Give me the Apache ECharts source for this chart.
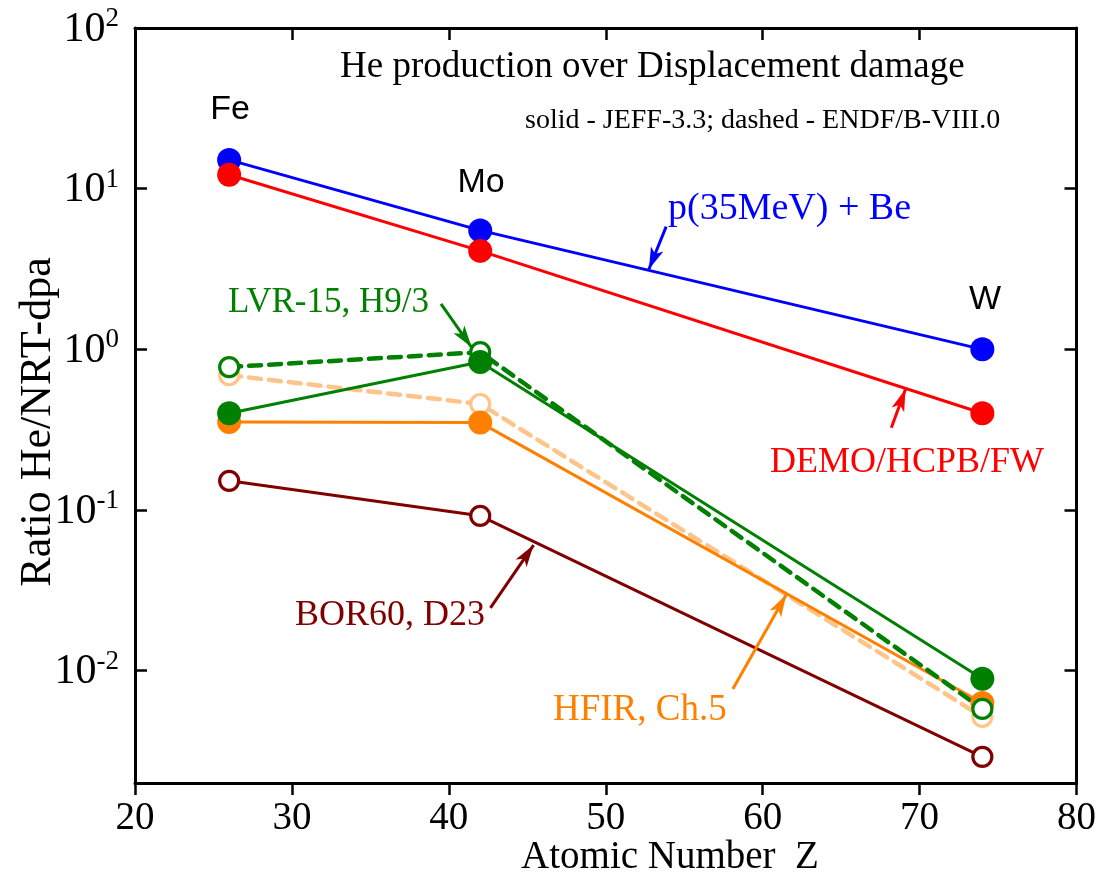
<!DOCTYPE html>
<html>
<head>
<meta charset="utf-8">
<title>He production over Displacement damage</title>
<script src="https://cdn.jsdelivr.net/npm/echarts@6/dist/echarts.min.js"></script>
<style>
  html, body { margin: 0; padding: 0; background: #fff; }
  #chart { width: 1099px; height: 882px; }
</style>
</head>
<body>
<div id="chart"></div>
<script>
// Atomic number of the three elements (Fe, Mo, W)
const zAtomic = [26, 42, 74];
const elementNames = ['Fe', 'Mo', 'W'];

// He/NRT-dpa ratio per irradiation spectrum
const heDpaBeam = [15.1, 5.5, 1.0];          // p(35MeV) + Be
const heDpaDemo = [12.2, 4.1, 0.40];         // DEMO/HCPB/FW
const heDpaHfirEndf = [0.69, 0.457, 0.00516]; // HFIR, Ch.5 (ENDF/B-VIII.0)
const heDpaHfirJeff = [0.353, 0.35, 0.0063];  // HFIR, Ch.5 (JEFF-3.3)
const heDpaLvrEndf = [0.776, 0.96, 0.00578];  // LVR-15, H9/3 (ENDF/B-VIII.0)
const heDpaLvrJeff = [0.40, 0.835, 0.0089];   // LVR-15, H9/3 (JEFF-3.3)
const heDpaBor60 = [0.152, 0.092, 0.00291];   // BOR60, D23

// Axis ranges
const xMin = 20, xMax = 80, xStep = 10;
const yMin = 0.002, yMax = 100;

const SERIF = "'Liberation Serif', 'Times New Roman', serif";
const SANS = "'Liberation Sans', Arial, sans-serif";

const pairs = vals => zAtomic.map((z, i) => [z, vals[i]]);

function lineSeries(name, vals, color, opts) {
  const open = opts.open;
  return {
    name: name,
    type: 'line',
    data: pairs(vals),
    symbol: 'circle',
    symbolSize: open ? 19 : 24,
    showSymbol: true,
    lineStyle: {
      color: color,
      width: opts.width || 3,
      type: opts.dash ? [12, 8] : 'solid',
      cap: 'round'
    },
    itemStyle: open
      ? { color: '#ffffff', borderColor: color, borderWidth: 3.2 }
      : { color: color, borderWidth: 0 },
    emphasis: { disabled: true },
    silent: true
  };
}

// Pointer arrows from the labels to their curves, in data coordinates
const pointers = [
  { color: '#0000ff', from: [53.85, 5.8], to: [52.75, 3.15] },
  { color: '#008000', from: [39.5, 1.92], to: [41.45, 1.03] },
  { color: '#ff0000', from: [68.2, 0.325], to: [69.1, 0.565] },
  { color: '#800000', from: [42.65, 0.0246], to: [45.4, 0.0605] },
  { color: '#ff8000', from: [58.1, 0.0077], to: [61.5, 0.0297] }
];

const chart = echarts.init(document.getElementById('chart'), null, { renderer: 'canvas' });

// Decade labels written as 10 with a raised exponent
function decadeLabel(v) {
  const e = Math.log10(v);
  const r = Math.round(e);
  if (Math.abs(e - r) > 1e-6) return '';
  return '{b|10}{s|' + String(r) + '}';
}

const frame = { show: true, lineStyle: { color: '#000', width: 3 } };
const tickIn = { show: true, inside: true, length: 12, lineStyle: { color: '#000', width: 2.5 } };

const option = {
  animation: false,
  backgroundColor: '#ffffff',
  grid: { left: 135, right: 21, top: 28, bottom: 99, containLabel: false },
  xAxis: [
    {
      type: 'value', position: 'bottom', min: xMin, max: xMax, interval: xStep,
      axisLine: frame,
      axisTick: { show: true, inside: false, length: 12, lineStyle: { color: '#000', width: 2.5 } },
      axisLabel: { show: true, margin: 16, color: '#000', fontFamily: SERIF, fontSize: 39 },
      splitLine: { show: false }
    },
    {
      type: 'value', position: 'top', min: xMin, max: xMax, interval: xStep,
      axisLine: frame, axisTick: tickIn, axisLabel: { show: false }, splitLine: { show: false }
    }
  ],
  yAxis: [
    {
      type: 'log', logBase: 10, position: 'left', min: yMin, max: yMax,
      axisLine: frame, axisTick: tickIn,
      minorTick: { show: false },
      axisLabel: {
        show: true, margin: 16, color: '#000', fontFamily: SERIF,
        formatter: decadeLabel,
        rich: {
          b: { fontFamily: SERIF, fontSize: 42, color: '#000', verticalAlign: 'bottom' },
          s: { fontFamily: SERIF, fontSize: 27, color: '#000', verticalAlign: 'bottom', padding: [0, 0, 18, 0] }
        }
      },
      splitLine: { show: false }
    },
    {
      type: 'log', logBase: 10, position: 'right', min: yMin, max: yMax,
      axisLine: frame, axisTick: tickIn, axisLabel: { show: false }, splitLine: { show: false }
    }
  ],
  series: [
    lineSeries('p(35MeV) + Be', heDpaBeam, '#0000ff', {}),
    lineSeries('DEMO/HCPB/FW', heDpaDemo, '#ff0000', {}),
    lineSeries('HFIR, Ch.5 ENDF/B-VIII.0', heDpaHfirEndf, '#ffc48a', { open: true, dash: true, width: 4.5 }),
    lineSeries('HFIR, Ch.5 JEFF-3.3', heDpaHfirJeff, '#ff8000', {}),
    lineSeries('LVR-15, H9/3 ENDF/B-VIII.0', heDpaLvrEndf, '#008000', { open: true, dash: true, width: 4.5 }),
    lineSeries('LVR-15, H9/3 JEFF-3.3', heDpaLvrJeff, '#008000', {}),
    lineSeries('BOR60, D23', heDpaBor60, '#800000', { open: true }),
    {
      name: 'pointers', type: 'line', data: [], silent: true,
      markLine: {
        silent: true, animation: false,
        symbol: ['none', 'arrow'], symbolSize: [10, 22],
        label: { show: false },
        emphasis: { disabled: true },
        data: pointers.map(p => [
          { coord: p.from, lineStyle: { color: p.color, width: 3, type: 'solid' }, itemStyle: { color: p.color } },
          { coord: p.to }
        ])
      }
    }
  ],
  graphic: [
    { type: 'text', left: 340, top: 49, style: { text: 'He production over Displacement damage', font: '37px ' + SERIF, fill: '#000' } },
    { type: 'text', left: 525, top: 107, style: { text: 'solid - JEFF-3.3; dashed - ENDF/B-VIII.0', font: '28px ' + SERIF, fill: '#000' } },
    { type: 'text', left: 668, top: 190, style: { text: 'p(35MeV) + Be', font: '38px ' + SERIF, fill: '#0000ff' } },
    { type: 'text', left: 228, top: 285, style: { text: 'LVR-15, H9/3', font: '35px ' + SERIF, fill: '#008000' } },
    { type: 'text', left: 770, top: 445, style: { text: 'DEMO/HCPB/FW', font: '36px ' + SERIF, fill: '#ff0000' } },
    { type: 'text', left: 295, top: 598, style: { text: 'BOR60, D23', font: '36px ' + SERIF, fill: '#800000' } },
    { type: 'text', left: 553, top: 692, style: { text: 'HFIR, Ch.5', font: '37px ' + SERIF, fill: '#ff8000' } },
    { type: 'text', x: 230, y: 110, style: { text: elementNames[0], font: '34px ' + SANS, fill: '#000', align: 'center', verticalAlign: 'middle' } },
    { type: 'text', x: 481, y: 183, style: { text: elementNames[1], font: '34px ' + SANS, fill: '#000', align: 'center', verticalAlign: 'middle' } },
    { type: 'text', x: 985, y: 300, style: { text: elementNames[2], font: '34px ' + SANS, fill: '#000', align: 'center', verticalAlign: 'middle' } },
    { type: 'text', x: 670, y: 858, style: { text: 'Atomic Number  Z', font: '39px ' + SERIF, fill: '#000', align: 'center', verticalAlign: 'middle' } },
    { type: 'text', x: 38, y: 422, rotation: Math.PI / 2, style: { text: 'Ratio He/NRT-dpa', font: '44px ' + SERIF, fill: '#000', align: 'center', verticalAlign: 'middle' } }
  ]
};

chart.setOption(option);
</script>
</body>
</html>
